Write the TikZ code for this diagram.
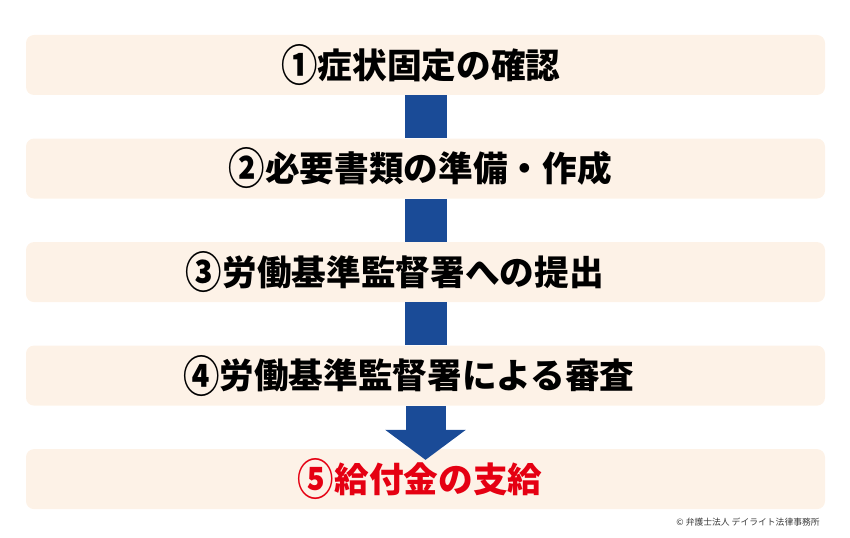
\documentclass[tikz,border=0pt]{standalone}
\usepackage{fontspec}
\usepackage{xcolor}
\usetikzlibrary{positioning,arrows.meta}
\newfontfamily\jpfont{Noto Sans CJK JP}
\definecolor{boxfill}{HTML}{FDF2E7}
\definecolor{flowblue}{HTML}{1A4B97}
\definecolor{flowred}{HTML}{E50012}
\definecolor{notegray}{HTML}{3A3A3A}
% taller circled step numbers
\newcommand{\stepno}[1]{\raisebox{-0.09em}{\scalebox{1.05}[1.25]{#1}}}

\begin{document}
\begin{tikzpicture}[
		x=0.75pt, y=-0.75pt,
		stepbox/.style={rectangle, rounded corners=6pt, draw=none, fill=boxfill, minimum width=599.25pt, minimum height=45pt, inner sep=0pt, font=\jpfont\bfseries\fontsize{26pt}{30pt}\selectfont},
		link/.style={draw=flowblue, line width=31.5pt},
		finalarrow/.style={draw=flowblue, line width=30pt, -{Triangle[width=59.25pt, length=22.5pt]}},
		node distance=32.25pt,
		]
		\useasboundingbox (0,0) rectangle (850,538);

		%Main Nodes
		\node[stepbox]	(check)	at (425.5,65)	{\stepno{①}症状固定の確認\hspace*{7pt}};
		\node[stepbox]	(docs)	[below=of check]	{\stepno{②}必要書類の準備・作成\hspace*{8pt}};
		\node[stepbox]	(submit)	[below=of docs]	{\stepno{③}労働基準監督署への提出\hspace*{46pt}};
		\node[stepbox]	(review)	[below=of submit]	{\stepno{④}労働基準監督署による審査\hspace*{25pt}};
		\node[stepbox, text=flowred]	(payment)	[below=of review]	{\stepno{⑤}給付金の支給\hspace*{8pt}};

		%Connectors
		\draw[link]	(check.south)	--	(docs.north);
		\draw[link]	(docs.south)	--	(submit.north);
		\draw[link]	(submit.south)	--	(review.north);
		\coordinate	(tip)	at ([yshift=-8.25pt]payment.north);
		\draw[finalarrow]	(review.south)	--	(tip);

		%Credit
		\node[anchor=east, inner sep=0pt, text=notegray, font=\jpfont\fontsize{6.6pt}{8pt}\selectfont]	(credit)	at (820,522)	{© 弁護士法人 デイライト法律事務所};
	\end{tikzpicture}
\end{document}
